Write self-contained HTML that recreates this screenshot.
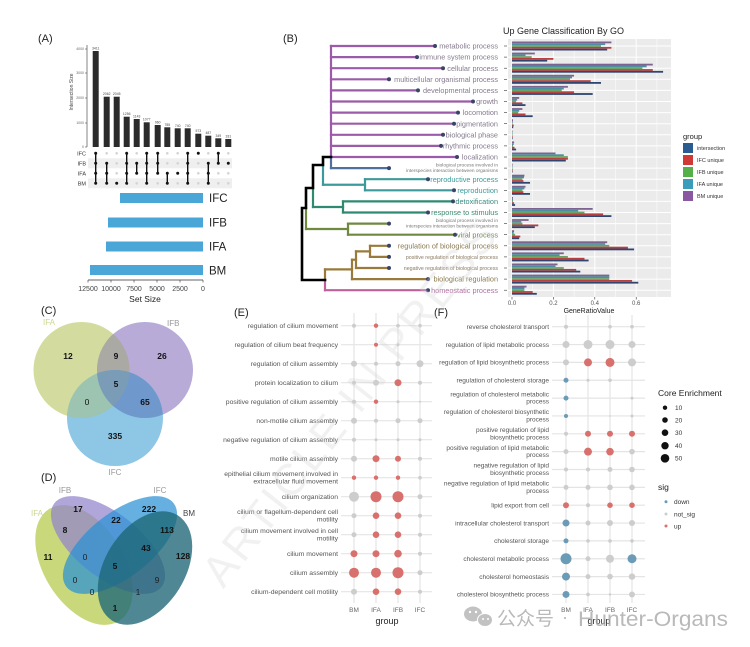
<!DOCTYPE html>
<html><head><meta charset="utf-8"><style>
html,body{margin:0;padding:0;background:#fff;}
svg{display:block;font-family:"Liberation Sans","Noto Sans CJK SC",sans-serif;}
</style></head><body>
<svg width="750" height="647" viewBox="0 0 750 647" xmlns="http://www.w3.org/2000/svg">
<rect width="750" height="647" fill="#fff"/>
<defs>
<clipPath id="cA"><circle cx="81.5" cy="370" r="48"/></clipPath>
<clipPath id="cB"><circle cx="145" cy="370" r="48"/></clipPath>
</defs>

<!-- ===== Panel A ===== -->
<text x="38" y="42" font-size="11" fill="#222">(A)</text>
<line x1="87" y1="45" x2="87" y2="147" stroke="#333" stroke-width="0.6"/>
<g font-size="3.5" fill="#666" text-anchor="end">
<text x="84" y="148">0</text><text x="84" y="124">1000</text><text x="84" y="99">2000</text><text x="84" y="74">3000</text><text x="84" y="50">4000</text>
</g>
<g stroke="#333" stroke-width="0.5"><line x1="85" y1="147" x2="87" y2="147"/><line x1="85" y1="123" x2="87" y2="123"/><line x1="85" y1="98" x2="87" y2="98"/><line x1="85" y1="73" x2="87" y2="73"/><line x1="85" y1="49" x2="87" y2="49"/></g>
<text transform="translate(73,92) rotate(-90)" font-size="5" fill="#444" text-anchor="middle">Intersection Size</text>
<g fill="#2b2b2b">
<rect x="92.7" y="51" width="6" height="96"/>
<rect x="103.7" y="96.7" width="6" height="50.3"/>
<rect x="113.7" y="96.7" width="6" height="50.3"/>
<rect x="123.7" y="116.7" width="6" height="30.3"/>
<rect x="133.7" y="119" width="6" height="28"/>
<rect x="143.7" y="122.3" width="6" height="24.7"/>
<rect x="154.7" y="125" width="6" height="22"/>
<rect x="164.3" y="127.3" width="6" height="19.7"/>
<rect x="174.7" y="128.3" width="6" height="18.7"/>
<rect x="184.7" y="128.3" width="6" height="18.7"/>
<rect x="195.3" y="133.7" width="6" height="13.3"/>
<rect x="205.3" y="135.7" width="6" height="11.3"/>
<rect x="215.3" y="138.3" width="6" height="8.7"/>
<rect x="225.3" y="139" width="6" height="8"/>
</g>
<g font-size="3.4" fill="#444" text-anchor="middle">
<text x="95.7" y="49.5">3411</text><text x="106.7" y="95">2062</text><text x="116.7" y="95">2045</text><text x="126.7" y="115">1256</text><text x="136.7" y="117.5">1143</text><text x="146.7" y="120.5">1077</text><text x="157.7" y="123.5">960</text><text x="167.3" y="125.8">785</text><text x="177.7" y="126.8">740</text><text x="187.7" y="126.8">740</text><text x="198.3" y="132">573</text><text x="208.3" y="134">487</text><text x="218.3" y="136.8">349</text><text x="228.3" y="137.5">331</text>
</g>
<!-- matrix -->
<rect x="88" y="158.3" width="144" height="10" fill="#efefef"/>
<rect x="88" y="178.3" width="144" height="10" fill="#efefef"/>
<g font-size="5.5" fill="#333" text-anchor="end">
<text x="86" y="155.3">IFC</text><text x="86" y="165.3">IFB</text><text x="86" y="175.3">IFA</text><text x="86" y="185.3">BM</text>
</g>
<g fill="#d4d4d4">
<circle cx="95.7" cy="153.3" r="1.3"/><circle cx="106.7" cy="153.3" r="1.3"/><circle cx="116.7" cy="153.3" r="1.3"/><circle cx="136.7" cy="153.3" r="1.3"/><circle cx="167.3" cy="153.3" r="1.3"/><circle cx="177.7" cy="153.3" r="1.3"/><circle cx="208.3" cy="153.3" r="1.3"/><circle cx="228.3" cy="153.3" r="1.3"/>
<circle cx="116.7" cy="163.3" r="1.3"/><circle cx="167.3" cy="163.3" r="1.3"/><circle cx="177.7" cy="163.3" r="1.3"/><circle cx="198.3" cy="163.3" r="1.3"/>
<circle cx="116.7" cy="173.3" r="1.3"/><circle cx="198.3" cy="173.3" r="1.3"/><circle cx="218.3" cy="173.3" r="1.3"/><circle cx="228.3" cy="173.3" r="1.3"/>
<circle cx="136.7" cy="183.3" r="1.3"/><circle cx="157.7" cy="183.3" r="1.3"/><circle cx="177.7" cy="183.3" r="1.3"/><circle cx="198.3" cy="183.3" r="1.3"/><circle cx="218.3" cy="183.3" r="1.3"/><circle cx="228.3" cy="183.3" r="1.3"/>
</g>
<g stroke="#111" stroke-width="1.4">
<line x1="95.7" y1="153.3" x2="95.7" y2="183.3"/><line x1="106.7" y1="163.3" x2="106.7" y2="183.3"/><line x1="126.7" y1="153.3" x2="126.7" y2="183.3"/><line x1="136.7" y1="163.3" x2="136.7" y2="173.3"/><line x1="146.7" y1="153.3" x2="146.7" y2="183.3"/><line x1="157.7" y1="153.3" x2="157.7" y2="173.3"/><line x1="167.3" y1="173.3" x2="167.3" y2="183.3"/><line x1="187.7" y1="153.3" x2="187.7" y2="183.3"/><line x1="208.3" y1="163.3" x2="208.3" y2="183.3"/><line x1="218.3" y1="153.3" x2="218.3" y2="163.3"/>
</g>
<g fill="#111">
<circle cx="95.7" cy="153.3" r="1.5"/><circle cx="95.7" cy="163.3" r="1.5"/><circle cx="95.7" cy="173.3" r="1.5"/><circle cx="95.7" cy="183.3" r="1.5"/>
<circle cx="106.7" cy="163.3" r="1.5"/><circle cx="106.7" cy="173.3" r="1.5"/><circle cx="106.7" cy="183.3" r="1.5"/>
<circle cx="116.7" cy="183.3" r="1.5"/>
<circle cx="126.7" cy="153.3" r="1.5"/><circle cx="126.7" cy="163.3" r="1.5"/><circle cx="126.7" cy="173.3" r="1.5"/><circle cx="126.7" cy="183.3" r="1.5"/>
<circle cx="136.7" cy="163.3" r="1.5"/><circle cx="136.7" cy="173.3" r="1.5"/>
<circle cx="146.7" cy="153.3" r="1.5"/><circle cx="146.7" cy="163.3" r="1.5"/><circle cx="146.7" cy="173.3" r="1.5"/><circle cx="146.7" cy="183.3" r="1.5"/>
<circle cx="157.7" cy="153.3" r="1.5"/><circle cx="157.7" cy="163.3" r="1.5"/><circle cx="157.7" cy="173.3" r="1.5"/>
<circle cx="167.3" cy="173.3" r="1.5"/><circle cx="167.3" cy="183.3" r="1.5"/>
<circle cx="177.7" cy="173.3" r="1.5"/>
<circle cx="187.7" cy="153.3" r="1.5"/><circle cx="187.7" cy="163.3" r="1.5"/><circle cx="187.7" cy="173.3" r="1.5"/><circle cx="187.7" cy="183.3" r="1.5"/>
<circle cx="198.3" cy="153.3" r="1.5"/>
<circle cx="208.3" cy="163.3" r="1.5"/><circle cx="208.3" cy="173.3" r="1.5"/><circle cx="208.3" cy="183.3" r="1.5"/>
<circle cx="218.3" cy="153.3" r="1.5"/><circle cx="218.3" cy="163.3" r="1.5"/>
<circle cx="228.3" cy="163.3" r="1.5"/>
</g>
<!-- set size -->
<g fill="#4ba6d8">
<rect x="120" y="193" width="83" height="10"/>
<rect x="108" y="217.5" width="95" height="10"/>
<rect x="106" y="241.5" width="97" height="10"/>
<rect x="90" y="265" width="113" height="10"/>
</g>
<g font-size="11.5" fill="#222">
<text x="209" y="202">IFC</text><text x="209" y="226.5">IFB</text><text x="209" y="250.5">IFA</text><text x="209" y="274.5">BM</text>
</g>
<line x1="88" y1="280" x2="203" y2="280" stroke="#333" stroke-width="0.7"/>
<g stroke="#333" stroke-width="0.6"><line x1="88" y1="280" x2="88" y2="282.5"/><line x1="111" y1="280" x2="111" y2="282.5"/><line x1="134" y1="280" x2="134" y2="282.5"/><line x1="157" y1="280" x2="157" y2="282.5"/><line x1="180" y1="280" x2="180" y2="282.5"/><line x1="203" y1="280" x2="203" y2="282.5"/></g>
<g font-size="7" fill="#444" text-anchor="middle">
<text x="88" y="291">12500</text><text x="111" y="291">10000</text><text x="134" y="291">7500</text><text x="157" y="291">5000</text><text x="180" y="291">2500</text><text x="203" y="291">0</text>
</g>
<text x="145" y="302" font-size="8.5" fill="#222" text-anchor="middle">Set Size</text>

<!-- ===== Panel B ===== -->
<text x="283" y="42" font-size="11" fill="#222">(B)</text>
<text x="503" y="34" font-size="9" fill="#222">Up Gene Classification By GO</text>
<g fill="none" stroke-width="2.2" stroke-linecap="square">
<g stroke="#9b5ba8">
<line x1="331" y1="46" x2="331" y2="157"/>
<line x1="331" y1="46" x2="435" y2="46"/><line x1="331" y1="57.1" x2="417" y2="57.1"/><line x1="331" y1="68.2" x2="443" y2="68.2"/><line x1="331" y1="79.3" x2="389" y2="79.3"/><line x1="331" y1="90.4" x2="418" y2="90.4"/><line x1="331" y1="101.5" x2="473" y2="101.5"/><line x1="331" y1="112.6" x2="458" y2="112.6"/><line x1="331" y1="123.7" x2="454" y2="123.7"/><line x1="331" y1="134.8" x2="443" y2="134.8"/><line x1="331" y1="145.9" x2="441" y2="145.9"/><line x1="331" y1="157" x2="457" y2="157"/>
</g>
<g stroke="#5070a0"><line x1="331" y1="157" x2="331" y2="168.1"/><line x1="331" y1="168.1" x2="389" y2="168.1"/></g>
<g stroke="#3d9a9a"><line x1="323" y1="165" x2="323" y2="184.75"/><line x1="323" y1="184.75" x2="365" y2="184.75"/><line x1="365" y1="179.2" x2="365" y2="190.3"/><line x1="365" y1="179.2" x2="428" y2="179.2"/><line x1="365" y1="190.3" x2="454" y2="190.3"/></g>
<g stroke="#2e8a70"><line x1="313" y1="188" x2="313" y2="207"/><line x1="313" y1="207" x2="343" y2="207"/><line x1="343" y1="201.4" x2="343" y2="212.5"/><line x1="343" y1="201.4" x2="453" y2="201.4"/><line x1="343" y1="212.5" x2="428" y2="212.5"/></g>
<g stroke="#6f8a40"><line x1="306" y1="208" x2="306" y2="229"/><line x1="306" y1="229" x2="348" y2="229"/><line x1="348" y1="223.6" x2="348" y2="234.7"/><line x1="348" y1="223.6" x2="389" y2="223.6"/><line x1="348" y1="234.7" x2="455" y2="234.7"/></g>
<g stroke="#9a7a3a"><line x1="325" y1="269.4" x2="325" y2="280"/><line x1="325" y1="269.4" x2="352" y2="269.4"/><line x1="352" y1="259.7" x2="352" y2="279.1"/><line x1="352" y1="279.1" x2="428" y2="279.1"/><line x1="352" y1="259.7" x2="356" y2="259.7"/><line x1="356" y1="251.35" x2="356" y2="268"/><line x1="356" y1="268" x2="389" y2="268"/><line x1="356" y1="251.35" x2="370" y2="251.35"/><line x1="370" y1="245.8" x2="370" y2="256.9"/><line x1="370" y1="245.8" x2="389" y2="245.8"/><line x1="370" y1="256.9" x2="389" y2="256.9"/></g>
<g stroke="#c0609a"><line x1="325" y1="280" x2="325" y2="290.2"/><line x1="325" y1="290.2" x2="428" y2="290.2"/></g>
<g stroke="#000" stroke-width="2.6"><polyline points="331,157 323,157 323,165 313,165 313,188 306,188 306,208 302,208 302,280 325,280"/></g>
</g>
<g fill="#3a4468">
<circle cx="435" cy="46" r="2"/><circle cx="417" cy="57.1" r="2"/><circle cx="443" cy="68.2" r="2"/><circle cx="389" cy="79.3" r="2"/><circle cx="418" cy="90.4" r="2"/><circle cx="473" cy="101.5" r="2"/><circle cx="458" cy="112.6" r="2"/><circle cx="454" cy="123.7" r="2"/><circle cx="443" cy="134.8" r="2"/><circle cx="441" cy="145.9" r="2"/><circle cx="457" cy="157" r="2"/><circle cx="389" cy="168.1" r="2"/><circle cx="428" cy="179.2" r="2"/><circle cx="454" cy="190.3" r="2"/><circle cx="453" cy="201.4" r="2"/><circle cx="428" cy="212.5" r="2"/><circle cx="389" cy="223.6" r="2"/><circle cx="455" cy="234.7" r="2"/><circle cx="389" cy="245.8" r="2"/><circle cx="389" cy="256.9" r="2"/><circle cx="389" cy="268" r="2"/><circle cx="428" cy="279.1" r="2"/><circle cx="428" cy="290.2" r="2"/>
</g>
<g font-size="7.3" text-anchor="end">
<g fill="#857a8e">
<text x="498" y="48.6">metabolic process</text><text x="498" y="59.7">immune system process</text><text x="498" y="70.8">cellular process</text><text x="498" y="81.9">multicellular organismal process</text><text x="498" y="93">developmental process</text><text x="498" y="104.1">growth</text><text x="498" y="115.2">locomotion</text><text x="498" y="126.3">pigmentation</text><text x="498" y="137.4">biological phase</text><text x="498" y="148.5">rhythmic process</text><text x="498" y="159.6">localization</text>
</g>
<g fill="#777" font-size="4.8"><text x="498" y="166.6">biological process involved in</text><text x="498" y="171.8">interspecies interaction between organisms</text><text x="498" y="222.1">biological process involved in</text><text x="498" y="227.3">interspecies interaction between organisms</text></g>
<text x="498" y="181.8" fill="#3a9a9a">reproductive process</text>
<text x="498" y="192.9" fill="#3a9a9a">reproduction</text>
<text x="498" y="204" fill="#3a8a80">detoxification</text>
<text x="498" y="215.1" fill="#3a8a70">response to stimulus</text>
<text x="498" y="237.3" fill="#6a8a4a">viral process</text>
<text x="498" y="248.4" fill="#8a7a50">regulation of biological process</text>
<text x="498" y="258.8" fill="#8a7a60" font-size="5.3">positive regulation of biological process</text>
<text x="498" y="269.9" fill="#8a7a60" font-size="5.3">negative regulation of biological process</text>
<text x="498" y="281.7" fill="#8a7a50">biological regulation</text>
<text x="498" y="292.8" fill="#b070a0">homeostatic process</text>
</g>
<!-- bar panel -->
<rect x="508" y="39" width="163" height="258" fill="#ebebeb"/>
<g stroke="#fff" stroke-width="0.5"><line x1="532.7" y1="39" x2="532.7" y2="297"/><line x1="574.1" y1="39" x2="574.1" y2="297"/><line x1="615.5" y1="39" x2="615.5" y2="297"/><line x1="656.9" y1="39" x2="656.9" y2="297"/></g>
<g stroke="#fff" stroke-width="1"><line x1="512" y1="39" x2="512" y2="297"/><line x1="553.4" y1="39" x2="553.4" y2="297"/><line x1="594.8" y1="39" x2="594.8" y2="297"/><line x1="636.2" y1="39" x2="636.2" y2="297"/>
<line x1="508" y1="46" x2="671" y2="46"/><line x1="508" y1="57.1" x2="671" y2="57.1"/><line x1="508" y1="68.2" x2="671" y2="68.2"/><line x1="508" y1="79.3" x2="671" y2="79.3"/><line x1="508" y1="90.4" x2="671" y2="90.4"/><line x1="508" y1="101.5" x2="671" y2="101.5"/><line x1="508" y1="112.6" x2="671" y2="112.6"/><line x1="508" y1="123.7" x2="671" y2="123.7"/><line x1="508" y1="134.8" x2="671" y2="134.8"/><line x1="508" y1="145.9" x2="671" y2="145.9"/><line x1="508" y1="157" x2="671" y2="157"/><line x1="508" y1="168.1" x2="671" y2="168.1"/><line x1="508" y1="179.2" x2="671" y2="179.2"/><line x1="508" y1="190.3" x2="671" y2="190.3"/><line x1="508" y1="201.4" x2="671" y2="201.4"/><line x1="508" y1="212.5" x2="671" y2="212.5"/><line x1="508" y1="223.6" x2="671" y2="223.6"/><line x1="508" y1="234.7" x2="671" y2="234.7"/><line x1="508" y1="245.8" x2="671" y2="245.8"/><line x1="508" y1="256.9" x2="671" y2="256.9"/><line x1="508" y1="268" x2="671" y2="268"/><line x1="508" y1="279.1" x2="671" y2="279.1"/><line x1="508" y1="290.2" x2="671" y2="290.2"/></g>
<g stroke="#333" stroke-width="0.6">
<line x1="504" y1="46" x2="507" y2="46"/><line x1="504" y1="57.1" x2="507" y2="57.1"/><line x1="504" y1="68.2" x2="507" y2="68.2"/><line x1="504" y1="79.3" x2="507" y2="79.3"/><line x1="504" y1="90.4" x2="507" y2="90.4"/><line x1="504" y1="101.5" x2="507" y2="101.5"/><line x1="504" y1="112.6" x2="507" y2="112.6"/><line x1="504" y1="123.7" x2="507" y2="123.7"/><line x1="504" y1="134.8" x2="507" y2="134.8"/><line x1="504" y1="145.9" x2="507" y2="145.9"/><line x1="504" y1="157" x2="507" y2="157"/><line x1="504" y1="168.1" x2="507" y2="168.1"/><line x1="504" y1="179.2" x2="507" y2="179.2"/><line x1="504" y1="190.3" x2="507" y2="190.3"/><line x1="504" y1="201.4" x2="507" y2="201.4"/><line x1="504" y1="212.5" x2="507" y2="212.5"/><line x1="504" y1="223.6" x2="507" y2="223.6"/><line x1="504" y1="234.7" x2="507" y2="234.7"/><line x1="504" y1="245.8" x2="507" y2="245.8"/><line x1="504" y1="256.9" x2="507" y2="256.9"/><line x1="504" y1="268" x2="507" y2="268"/><line x1="504" y1="279.1" x2="507" y2="279.1"/><line x1="504" y1="290.2" x2="507" y2="290.2"/>
</g>
<g fill="#7d6490">
<rect x="512" y="41.5" width="99.4" height="1.8"/><rect x="512" y="52.6" width="22.8" height="1.8"/><rect x="512" y="63.7" width="140.8" height="1.8"/><rect x="512" y="74.8" width="62.1" height="1.8"/><rect x="512" y="85.9" width="55.9" height="1.8"/><rect x="512" y="97" width="7.2" height="1.8"/><rect x="512" y="108.1" width="10.4" height="1.8"/><rect x="512" y="119.2" width="1" height="1.8"/><rect x="512" y="130.3" width="0.5" height="1.8"/><rect x="512" y="141.4" width="2.1" height="1.8"/><rect x="512" y="152.5" width="43.5" height="1.8"/><rect x="512" y="163.6" width="0.6" height="1.8"/><rect x="512" y="174.7" width="12.4" height="1.8"/><rect x="512" y="185.8" width="13.5" height="1.8"/><rect x="512" y="196.9" width="1" height="1.8"/><rect x="512" y="208" width="80.7" height="1.8"/><rect x="512" y="219.1" width="16.6" height="1.8"/><rect x="512" y="230.2" width="2.1" height="1.8"/><rect x="512" y="241.3" width="95.2" height="1.8"/><rect x="512" y="252.4" width="51.8" height="1.8"/><rect x="512" y="263.5" width="45.5" height="1.8"/><rect x="512" y="274.6" width="97.3" height="1.8"/><rect x="512" y="285.7" width="14.5" height="1.8"/>
</g>
<g fill="#4d8fa2">
<rect x="512" y="43.3" width="93.2" height="1.8"/><rect x="512" y="54.4" width="13.5" height="1.8"/><rect x="512" y="65.5" width="134.6" height="1.8"/><rect x="512" y="76.6" width="60" height="1.8"/><rect x="512" y="87.7" width="51.8" height="1.8"/><rect x="512" y="98.8" width="5.2" height="1.8"/><rect x="512" y="109.9" width="7.2" height="1.8"/><rect x="512" y="121" width="0.8" height="1.8"/><rect x="512" y="132.1" width="0.5" height="1.8"/><rect x="512" y="143.2" width="1.7" height="1.8"/><rect x="512" y="154.3" width="51.8" height="1.8"/><rect x="512" y="165.4" width="0.5" height="1.8"/><rect x="512" y="176.5" width="12" height="1.8"/><rect x="512" y="187.6" width="12.4" height="1.8"/><rect x="512" y="198.7" width="1" height="1.8"/><rect x="512" y="209.8" width="66.2" height="1.8"/><rect x="512" y="220.9" width="9.3" height="1.8"/><rect x="512" y="232" width="1.7" height="1.8"/><rect x="512" y="243.1" width="93.2" height="1.8"/><rect x="512" y="254.2" width="47.6" height="1.8"/><rect x="512" y="265.3" width="43.5" height="1.8"/><rect x="512" y="276.4" width="97.3" height="1.8"/><rect x="512" y="287.5" width="12.4" height="1.8"/>
</g>
<g fill="#6aa464">
<rect x="512" y="45.1" width="89" height="1.8"/><rect x="512" y="56.2" width="19.7" height="1.8"/><rect x="512" y="67.3" width="130.4" height="1.8"/><rect x="512" y="78.4" width="58" height="1.8"/><rect x="512" y="89.5" width="49.7" height="1.8"/><rect x="512" y="100.6" width="4.1" height="1.8"/><rect x="512" y="111.7" width="6.2" height="1.8"/><rect x="512" y="122.8" width="0.6" height="1.8"/><rect x="512" y="133.9" width="0.5" height="1.8"/><rect x="512" y="145" width="1" height="1.8"/><rect x="512" y="156.1" width="55.9" height="1.8"/><rect x="512" y="167.2" width="0.5" height="1.8"/><rect x="512" y="178.3" width="10.4" height="1.8"/><rect x="512" y="189.4" width="10.4" height="1.8"/><rect x="512" y="200.5" width="1" height="1.8"/><rect x="512" y="211.6" width="72.5" height="1.8"/><rect x="512" y="222.7" width="10.4" height="1.8"/><rect x="512" y="233.8" width="3.1" height="1.8"/><rect x="512" y="244.9" width="97.3" height="1.8"/><rect x="512" y="256" width="55.9" height="1.8"/><rect x="512" y="267.1" width="51.8" height="1.8"/><rect x="512" y="278.2" width="97.3" height="1.8"/><rect x="512" y="289.3" width="12.4" height="1.8"/>
</g>
<g fill="#b8403f">
<rect x="512" y="46.9" width="99.4" height="1.8"/><rect x="512" y="58" width="41.4" height="1.8"/><rect x="512" y="69.1" width="140.8" height="1.8"/><rect x="512" y="80.2" width="78.7" height="1.8"/><rect x="512" y="91.3" width="62.1" height="1.8"/><rect x="512" y="102.4" width="10.4" height="1.8"/><rect x="512" y="113.5" width="13.5" height="1.8"/><rect x="512" y="124.6" width="1.7" height="1.8"/><rect x="512" y="135.7" width="0.6" height="1.8"/><rect x="512" y="146.8" width="2.5" height="1.8"/><rect x="512" y="157.9" width="55.9" height="1.8"/><rect x="512" y="169" width="0.6" height="1.8"/><rect x="512" y="180.1" width="11.4" height="1.8"/><rect x="512" y="191.2" width="11.4" height="1.8"/><rect x="512" y="202.3" width="2.1" height="1.8"/><rect x="512" y="213.4" width="91.1" height="1.8"/><rect x="512" y="224.5" width="26.3" height="1.8"/><rect x="512" y="235.6" width="8.3" height="1.8"/><rect x="512" y="246.7" width="115.9" height="1.8"/><rect x="512" y="257.8" width="72.5" height="1.8"/><rect x="512" y="268.9" width="64.2" height="1.8"/><rect x="512" y="280" width="120.1" height="1.8"/><rect x="512" y="291.1" width="20.7" height="1.8"/>
</g>
<g fill="#2f4670">
<rect x="512" y="48.7" width="95.2" height="1.8"/><rect x="512" y="59.8" width="35.2" height="1.8"/><rect x="512" y="70.9" width="151.1" height="1.8"/><rect x="512" y="82" width="89" height="1.8"/><rect x="512" y="93.1" width="80.7" height="1.8"/><rect x="512" y="104.2" width="13.5" height="1.8"/><rect x="512" y="115.3" width="20.7" height="1.8"/><rect x="512" y="126.4" width="1.2" height="1.8"/><rect x="512" y="137.5" width="0.6" height="1.8"/><rect x="512" y="148.6" width="4.1" height="1.8"/><rect x="512" y="159.7" width="53.8" height="1.8"/><rect x="512" y="170.8" width="0.6" height="1.8"/><rect x="512" y="181.9" width="18" height="1.8"/><rect x="512" y="193" width="18" height="1.8"/><rect x="512" y="204.1" width="3.1" height="1.8"/><rect x="512" y="215.2" width="99.4" height="1.8"/><rect x="512" y="226.3" width="22.8" height="1.8"/><rect x="512" y="237.4" width="7.2" height="1.8"/><rect x="512" y="248.5" width="122.1" height="1.8"/><rect x="512" y="259.6" width="76.6" height="1.8"/><rect x="512" y="270.7" width="68.3" height="1.8"/><rect x="512" y="281.8" width="126.3" height="1.8"/><rect x="512" y="292.9" width="24.8" height="1.8"/>
</g>
<g stroke="#333" stroke-width="0.6"><line x1="512" y1="297" x2="512" y2="299.5"/><line x1="553.4" y1="297" x2="553.4" y2="299.5"/><line x1="594.8" y1="297" x2="594.8" y2="299.5"/><line x1="636.2" y1="297" x2="636.2" y2="299.5"/></g>
<g font-size="6" fill="#555" text-anchor="middle"><text x="512" y="305">0.0</text><text x="553.4" y="305">0.2</text><text x="594.8" y="305">0.4</text><text x="636.2" y="305">0.6</text></g>
<text x="589" y="313" font-size="7" fill="#222" text-anchor="middle">GeneRatioValue</text>
<!-- legend B -->
<text x="683" y="139" font-size="7.5" fill="#222">group</text>
<rect x="683" y="143" width="10" height="10" fill="#2b5c8f"/>
<rect x="683" y="155" width="10" height="10" fill="#d03a36"/>
<rect x="683" y="167" width="10" height="10" fill="#55b04a"/>
<rect x="683" y="179" width="10" height="10" fill="#3a9cba"/>
<rect x="683" y="191" width="10" height="10" fill="#8a58a0"/>
<g font-size="5.5" fill="#333"><text x="697" y="150">intersection</text><text x="697" y="162">IFC unique</text><text x="697" y="174">IFB unique</text><text x="697" y="186">IFA unique</text><text x="697" y="198">BM unique</text></g>

<!-- ===== Panel C ===== -->
<text x="41" y="314" font-size="11" fill="#222">(C)</text>
<circle cx="81.5" cy="370" r="48" fill="#d3dc9e"/>
<circle cx="145" cy="370" r="48" fill="#b8abd8"/>
<circle cx="115" cy="418" r="48" fill="#8ec6e6"/>
<circle cx="145" cy="370" r="48" fill="#aaa9a3" clip-path="url(#cA)"/>
<circle cx="115" cy="418" r="48" fill="#9cc4b0" clip-path="url(#cA)"/>
<circle cx="115" cy="418" r="48" fill="#6f98cc" clip-path="url(#cB)"/>
<g clip-path="url(#cA)"><circle cx="115" cy="418" r="48" fill="#7b9cb6" clip-path="url(#cB)"/></g>
<text x="43" y="325" font-size="8" fill="#c8d890">IFA</text>
<text x="167" y="326" font-size="8" fill="#999">IFB</text>
<text x="115" y="475" font-size="8" fill="#999" text-anchor="middle">IFC</text>
<g font-size="8.5" font-weight="bold" fill="#111" text-anchor="middle">
<text x="68" y="359">12</text><text x="116" y="359">9</text><text x="162" y="359">26</text><text x="116" y="387">5</text><text x="87" y="405" font-weight="normal">0</text><text x="145" y="405">65</text><text x="115" y="439">335</text>
</g>

<!-- ===== Panel D ===== -->
<text x="41" y="481" font-size="11" fill="#222">(D)</text>
<ellipse cx="84" cy="565" rx="66" ry="40" transform="rotate(58 84 565)" fill="#c9d87a"/>
<ellipse cx="108" cy="545" rx="68" ry="32" transform="rotate(38 108 545)" fill="#9283cc" fill-opacity="0.72"/>
<ellipse cx="120" cy="545" rx="68" ry="32" transform="rotate(-38 120 545)" fill="#2a92d4" fill-opacity="0.72"/>
<ellipse cx="145" cy="568" rx="62" ry="40" transform="rotate(-58 145 568)" fill="#1d6676" fill-opacity="0.78"/>
<text x="65" y="493" font-size="8" fill="#999" text-anchor="middle">IFB</text>
<text x="160" y="493" font-size="8" fill="#999" text-anchor="middle">IFC</text>
<text x="37" y="516" font-size="8" fill="#c8d890" text-anchor="middle">IFA</text>
<text x="189" y="516" font-size="8" fill="#444" text-anchor="middle">BM</text>
<g font-size="8.5" font-weight="bold" fill="#111" text-anchor="middle">
<text x="78" y="512">17</text><text x="149" y="512">222</text><text x="116" y="523">22</text><text x="65" y="533">8</text><text x="167" y="533">113</text><text x="48" y="560">11</text><text x="146" y="551">43</text><text x="183" y="559">128</text><text x="115" y="569">5</text><text x="115" y="611">1</text>
</g>
<g font-size="8.5" fill="#222" text-anchor="middle">
<text x="85" y="560">0</text><text x="157" y="583">9</text><text x="75" y="583">0</text><text x="92" y="595">0</text><text x="138" y="595">1</text>
</g>

<!-- ===== Panel E ===== -->
<text x="234" y="316" font-size="11" fill="#222">(E)</text>
<g stroke="#e4e4e4" stroke-width="1.2">
<line x1="354" y1="313" x2="354" y2="603"/><line x1="376" y1="313" x2="376" y2="603"/><line x1="398" y1="313" x2="398" y2="603"/><line x1="420" y1="313" x2="420" y2="603"/>
<line x1="341" y1="325.7" x2="432" y2="325.7"/><line x1="341" y1="344.7" x2="432" y2="344.7"/><line x1="341" y1="363.7" x2="432" y2="363.7"/><line x1="341" y1="382.7" x2="432" y2="382.7"/><line x1="341" y1="401.7" x2="432" y2="401.7"/><line x1="341" y1="420.7" x2="432" y2="420.7"/><line x1="341" y1="439.7" x2="432" y2="439.7"/><line x1="341" y1="458.7" x2="432" y2="458.7"/><line x1="341" y1="477.7" x2="432" y2="477.7"/><line x1="341" y1="496.7" x2="432" y2="496.7"/><line x1="341" y1="515.7" x2="432" y2="515.7"/><line x1="341" y1="534.7" x2="432" y2="534.7"/><line x1="341" y1="553.7" x2="432" y2="553.7"/><line x1="341" y1="572.7" x2="432" y2="572.7"/><line x1="341" y1="591.7" x2="432" y2="591.7"/>
</g>
<g font-size="6.8" fill="#555" text-anchor="end">
<text x="338" y="328">regulation of cilium movement</text>
<text x="338" y="347">regulation of cilium beat frequency</text>
<text x="338" y="366">regulation of cilium assembly</text>
<text x="338" y="385">protein localization to cilium</text>
<text x="338" y="404">positive regulation of cilium assembly</text>
<text x="338" y="423">non-motile cilium assembly</text>
<text x="338" y="442">negative regulation of cilium assembly</text>
<text x="338" y="461">motile cilium assembly</text>
<text x="338" y="476">epithelial cilium movement involved in</text><text x="338" y="483.5">extracellular fluid movement</text>
<text x="338" y="499">cilium organization</text>
<text x="338" y="514">cilium or flagellum-dependent cell</text><text x="338" y="521.5">motility</text>
<text x="338" y="533">cilium movement involved in cell</text><text x="338" y="540.5">motility</text>
<text x="338" y="556">cilium movement</text>
<text x="338" y="575">cilium assembly</text>
<text x="338" y="594">cilium-dependent cell motility</text>
</g>
<g>
<circle cx="354" cy="325.7" r="2" fill="#cdcdcd"/><circle cx="376" cy="325.7" r="2.2" fill="#d8716d"/><circle cx="398" cy="325.7" r="1.8" fill="#cdcdcd"/><circle cx="420" cy="325.7" r="1.8" fill="#cdcdcd"/>
<circle cx="376" cy="344.7" r="2" fill="#d8716d"/><circle cx="398" cy="344.7" r="1.5" fill="#cdcdcd"/>
<circle cx="354" cy="363.7" r="3" fill="#cdcdcd"/><circle cx="376" cy="363.7" r="2" fill="#cdcdcd"/><circle cx="398" cy="363.7" r="2.5" fill="#cdcdcd"/><circle cx="420" cy="363.7" r="3.5" fill="#cdcdcd"/>
<circle cx="354" cy="382.7" r="2" fill="#cdcdcd"/><circle cx="376" cy="382.7" r="3" fill="#cdcdcd"/><circle cx="398" cy="382.7" r="3.5" fill="#d8716d"/><circle cx="420" cy="382.7" r="2" fill="#cdcdcd"/>
<circle cx="354" cy="401.7" r="2" fill="#cdcdcd"/><circle cx="376" cy="401.7" r="2.2" fill="#d8716d"/><circle cx="398" cy="401.7" r="1.5" fill="#cdcdcd"/><circle cx="420" cy="401.7" r="1" fill="#cdcdcd"/>
<circle cx="354" cy="420.7" r="3" fill="#cdcdcd"/><circle cx="376" cy="420.7" r="2" fill="#cdcdcd"/><circle cx="398" cy="420.7" r="2.5" fill="#cdcdcd"/><circle cx="420" cy="420.7" r="2.5" fill="#cdcdcd"/>
<circle cx="354" cy="439.7" r="2" fill="#cdcdcd"/><circle cx="376" cy="439.7" r="1.5" fill="#cdcdcd"/><circle cx="398" cy="439.7" r="1.5" fill="#cdcdcd"/><circle cx="420" cy="439.7" r="1.5" fill="#cdcdcd"/>
<circle cx="354" cy="458.7" r="3" fill="#cdcdcd"/><circle cx="376" cy="458.7" r="3.5" fill="#d8716d"/><circle cx="398" cy="458.7" r="3" fill="#d8716d"/><circle cx="420" cy="458.7" r="2" fill="#cdcdcd"/>
<circle cx="354" cy="477.7" r="2.2" fill="#d8716d"/><circle cx="376" cy="477.7" r="2.2" fill="#d8716d"/><circle cx="398" cy="477.7" r="2.2" fill="#d8716d"/><circle cx="420" cy="477.7" r="1.8" fill="#cdcdcd"/>
<circle cx="354" cy="496.7" r="5" fill="#cdcdcd"/><circle cx="376" cy="496.7" r="5.5" fill="#d8716d"/><circle cx="398" cy="496.7" r="5.5" fill="#d8716d"/><circle cx="420" cy="496.7" r="2.5" fill="#cdcdcd"/>
<circle cx="354" cy="515.7" r="2.5" fill="#cdcdcd"/><circle cx="376" cy="515.7" r="3.3" fill="#d8716d"/><circle cx="398" cy="515.7" r="3.3" fill="#d8716d"/><circle cx="420" cy="515.7" r="2" fill="#cdcdcd"/>
<circle cx="354" cy="534.7" r="2.5" fill="#cdcdcd"/><circle cx="376" cy="534.7" r="3.3" fill="#d8716d"/><circle cx="398" cy="534.7" r="3.3" fill="#d8716d"/><circle cx="420" cy="534.7" r="2" fill="#cdcdcd"/>
<circle cx="354" cy="553.7" r="3.5" fill="#d8716d"/><circle cx="376" cy="553.7" r="3.5" fill="#d8716d"/><circle cx="398" cy="553.7" r="3.8" fill="#d8716d"/><circle cx="420" cy="553.7" r="2" fill="#cdcdcd"/>
<circle cx="354" cy="572.7" r="5" fill="#d8716d"/><circle cx="376" cy="572.7" r="5" fill="#d8716d"/><circle cx="398" cy="572.7" r="5.5" fill="#d8716d"/><circle cx="420" cy="572.7" r="2.5" fill="#cdcdcd"/>
<circle cx="354" cy="591.7" r="3" fill="#cdcdcd"/><circle cx="376" cy="591.7" r="3.3" fill="#d8716d"/><circle cx="398" cy="591.7" r="3.3" fill="#d8716d"/><circle cx="420" cy="591.7" r="2" fill="#cdcdcd"/>
</g>
<g font-size="6.5" fill="#666" text-anchor="middle"><text x="354" y="612">BM</text><text x="376" y="612">IFA</text><text x="398" y="612">IFB</text><text x="420" y="612">IFC</text></g>
<text x="387" y="624" font-size="9" fill="#222" text-anchor="middle">group</text>

<!-- ===== Panel F ===== -->
<text x="434" y="316" font-size="11" fill="#222">(F)</text>
<g stroke="#e4e4e4" stroke-width="1.2">
<line x1="566" y1="315" x2="566" y2="603"/><line x1="588" y1="315" x2="588" y2="603"/><line x1="610" y1="315" x2="610" y2="603"/><line x1="632" y1="315" x2="632" y2="603"/>
<line x1="552" y1="326.7" x2="645" y2="326.7"/><line x1="552" y1="344.55" x2="645" y2="344.55"/><line x1="552" y1="362.4" x2="645" y2="362.4"/><line x1="552" y1="380.25" x2="645" y2="380.25"/><line x1="552" y1="398.1" x2="645" y2="398.1"/><line x1="552" y1="415.95" x2="645" y2="415.95"/><line x1="552" y1="433.8" x2="645" y2="433.8"/><line x1="552" y1="451.65" x2="645" y2="451.65"/><line x1="552" y1="469.5" x2="645" y2="469.5"/><line x1="552" y1="487.35" x2="645" y2="487.35"/><line x1="552" y1="505.2" x2="645" y2="505.2"/><line x1="552" y1="523.05" x2="645" y2="523.05"/><line x1="552" y1="540.9" x2="645" y2="540.9"/><line x1="552" y1="558.75" x2="645" y2="558.75"/><line x1="552" y1="576.6" x2="645" y2="576.6"/><line x1="552" y1="594.45" x2="645" y2="594.45"/>
</g>
<g font-size="6.5" fill="#555" text-anchor="end">
<text x="549" y="329">reverse cholesterol transport</text>
<text x="549" y="346.8">regulation of lipid metabolic process</text>
<text x="549" y="364.7">regulation of lipid biosynthetic process</text>
<text x="549" y="382.5">regulation of cholesterol storage</text>
<text x="549" y="396.3">regulation of cholesterol metabolic</text><text x="549" y="403.7">process</text>
<text x="549" y="414.1">regulation of cholesterol biosynthetic</text><text x="549" y="421.5">process</text>
<text x="549" y="432">positive regulation of lipid</text><text x="549" y="439.4">biosynthetic process</text>
<text x="549" y="449.8">positive regulation of lipid metabolic</text><text x="549" y="457.2">process</text>
<text x="549" y="467.7">negative regulation of lipid</text><text x="549" y="475.1">biosynthetic process</text>
<text x="549" y="485.5">negative regulation of lipid metabolic</text><text x="549" y="492.9">process</text>
<text x="549" y="507.5">lipid export from cell</text>
<text x="549" y="525.3">intracellular cholesterol transport</text>
<text x="549" y="543.2">cholesterol storage</text>
<text x="549" y="561">cholesterol metabolic process</text>
<text x="549" y="578.9">cholesterol homeostasis</text>
<text x="549" y="596.7">cholesterol biosynthetic process</text>
</g>
<g>
<circle cx="566" cy="326.7" r="2" fill="#cdcdcd"/><circle cx="610" cy="326.7" r="1.8" fill="#cdcdcd"/><circle cx="632" cy="326.7" r="1.8" fill="#cdcdcd"/>
<circle cx="566" cy="344.55" r="3.5" fill="#cdcdcd"/><circle cx="588" cy="344.55" r="4.5" fill="#cdcdcd"/><circle cx="610" cy="344.55" r="4.5" fill="#cdcdcd"/><circle cx="632" cy="344.55" r="3.5" fill="#cdcdcd"/>
<circle cx="566" cy="362.4" r="3" fill="#cdcdcd"/><circle cx="588" cy="362.4" r="4" fill="#d8716d"/><circle cx="610" cy="362.4" r="4.5" fill="#d8716d"/><circle cx="632" cy="362.4" r="4" fill="#cdcdcd"/>
<circle cx="566" cy="380.25" r="2.5" fill="#6b9bb6"/><circle cx="588" cy="380.25" r="1.5" fill="#cdcdcd"/><circle cx="610" cy="380.25" r="1.8" fill="#cdcdcd"/>
<circle cx="566" cy="398.1" r="2.5" fill="#6b9bb6"/><circle cx="632" cy="398.1" r="1.5" fill="#cdcdcd"/>
<circle cx="566" cy="415.95" r="2" fill="#6b9bb6"/><circle cx="610" cy="415.95" r="0.8" fill="#cdcdcd"/><circle cx="632" cy="415.95" r="1.5" fill="#cdcdcd"/>
<circle cx="566" cy="433.8" r="2" fill="#cdcdcd"/><circle cx="588" cy="433.8" r="3" fill="#d8716d"/><circle cx="610" cy="433.8" r="3" fill="#d8716d"/><circle cx="632" cy="433.8" r="3" fill="#d8716d"/>
<circle cx="566" cy="451.65" r="2.5" fill="#cdcdcd"/><circle cx="588" cy="451.65" r="4" fill="#d8716d"/><circle cx="610" cy="451.65" r="3.8" fill="#d8716d"/><circle cx="632" cy="451.65" r="2.8" fill="#cdcdcd"/>
<circle cx="566" cy="469.5" r="2" fill="#cdcdcd"/><circle cx="588" cy="469.5" r="2" fill="#cdcdcd"/><circle cx="610" cy="469.5" r="2.5" fill="#cdcdcd"/><circle cx="632" cy="469.5" r="2.8" fill="#cdcdcd"/>
<circle cx="566" cy="487.35" r="2.5" fill="#cdcdcd"/><circle cx="588" cy="487.35" r="2.5" fill="#cdcdcd"/><circle cx="610" cy="487.35" r="2.8" fill="#cdcdcd"/><circle cx="632" cy="487.35" r="2.8" fill="#cdcdcd"/>
<circle cx="566" cy="505.2" r="3" fill="#d8716d"/><circle cx="588" cy="505.2" r="2" fill="#cdcdcd"/><circle cx="610" cy="505.2" r="2.8" fill="#d8716d"/><circle cx="632" cy="505.2" r="2.8" fill="#d8716d"/>
<circle cx="566" cy="523.05" r="3.5" fill="#6b9bb6"/><circle cx="588" cy="523.05" r="2.5" fill="#cdcdcd"/><circle cx="610" cy="523.05" r="3" fill="#cdcdcd"/><circle cx="632" cy="523.05" r="3" fill="#cdcdcd"/>
<circle cx="566" cy="540.9" r="2.5" fill="#6b9bb6"/><circle cx="588" cy="540.9" r="1.8" fill="#cdcdcd"/><circle cx="610" cy="540.9" r="1.8" fill="#cdcdcd"/><circle cx="632" cy="540.9" r="1.8" fill="#cdcdcd"/>
<circle cx="566" cy="558.75" r="5.5" fill="#6b9bb6"/><circle cx="588" cy="558.75" r="2.5" fill="#cdcdcd"/><circle cx="610" cy="558.75" r="4" fill="#cdcdcd"/><circle cx="632" cy="558.75" r="4.5" fill="#6b9bb6"/>
<circle cx="566" cy="576.6" r="4" fill="#6b9bb6"/><circle cx="588" cy="576.6" r="2.5" fill="#cdcdcd"/><circle cx="610" cy="576.6" r="2.8" fill="#cdcdcd"/><circle cx="632" cy="576.6" r="3.2" fill="#cdcdcd"/>
<circle cx="566" cy="594.45" r="3.5" fill="#6b9bb6"/><circle cx="588" cy="594.45" r="1.8" fill="#cdcdcd"/><circle cx="610" cy="594.45" r="1.2" fill="#cdcdcd"/><circle cx="632" cy="594.45" r="3" fill="#cdcdcd"/>
</g>
<g font-size="6.5" fill="#666" text-anchor="middle"><text x="566" y="612">BM</text><text x="588" y="612">IFA</text><text x="610" y="612">IFB</text><text x="632" y="612">IFC</text></g>
<text x="599" y="624" font-size="9" fill="#222" text-anchor="middle">group</text>

<!-- legend E/F -->
<text x="658" y="396" font-size="8.5" fill="#222">Core Enrichment</text>
<g fill="#111"><circle cx="665" cy="407.7" r="2.2"/><circle cx="665" cy="420" r="2.8"/><circle cx="665" cy="432.7" r="3.3"/><circle cx="665" cy="445.7" r="3.7"/><circle cx="665" cy="458.3" r="4.3"/></g>
<g font-size="6.5" fill="#333"><text x="675" y="410">10</text><text x="675" y="422.3">20</text><text x="675" y="435">30</text><text x="675" y="448">40</text><text x="675" y="460.6">50</text></g>
<text x="658" y="490" font-size="8.5" fill="#222">sig</text>
<circle cx="666" cy="501.7" r="1.5" fill="#6b9bb6"/><circle cx="666" cy="514" r="1.5" fill="#cdcdcd"/><circle cx="666" cy="526" r="1.5" fill="#d8716d"/>
<g font-size="6.5" fill="#333"><text x="674" y="504">down</text><text x="674" y="516.3">not_sig</text><text x="674" y="528.3">up</text></g>

<!-- watermark ARTICLE IN PRESS -->
<text x="0" y="0" transform="translate(362,412) rotate(-52)" font-size="44" fill="#cfcfcf" fill-opacity="0.3" text-anchor="middle" letter-spacing="3">ARTICLE IN PRESS</text>

<!-- WeChat watermark -->
<g opacity="0.8">
<ellipse cx="473" cy="614" rx="9" ry="7.5" fill="#b4b4b4"/>
<ellipse cx="485" cy="620" rx="7.5" ry="6.5" fill="#b4b4b4" stroke="#fff" stroke-width="1"/>
<circle cx="470" cy="612" r="1.2" fill="#fff"/><circle cx="476" cy="612" r="1.2" fill="#fff"/>
<circle cx="483" cy="619" r="1" fill="#fff"/><circle cx="488" cy="619" r="1" fill="#fff"/>
<text x="497" y="625" font-size="19" fill="#a8a8a8" font-family="'Noto Sans CJK SC',sans-serif">公众号</text>
<text x="562" y="623" font-size="18" fill="#a8a8a8">·</text>
<text x="578" y="626" font-size="21" fill="#a8a8a8" textLength="150" lengthAdjust="spacingAndGlyphs">Hunter-Organs</text>
</g>
</svg>
</body></html>
